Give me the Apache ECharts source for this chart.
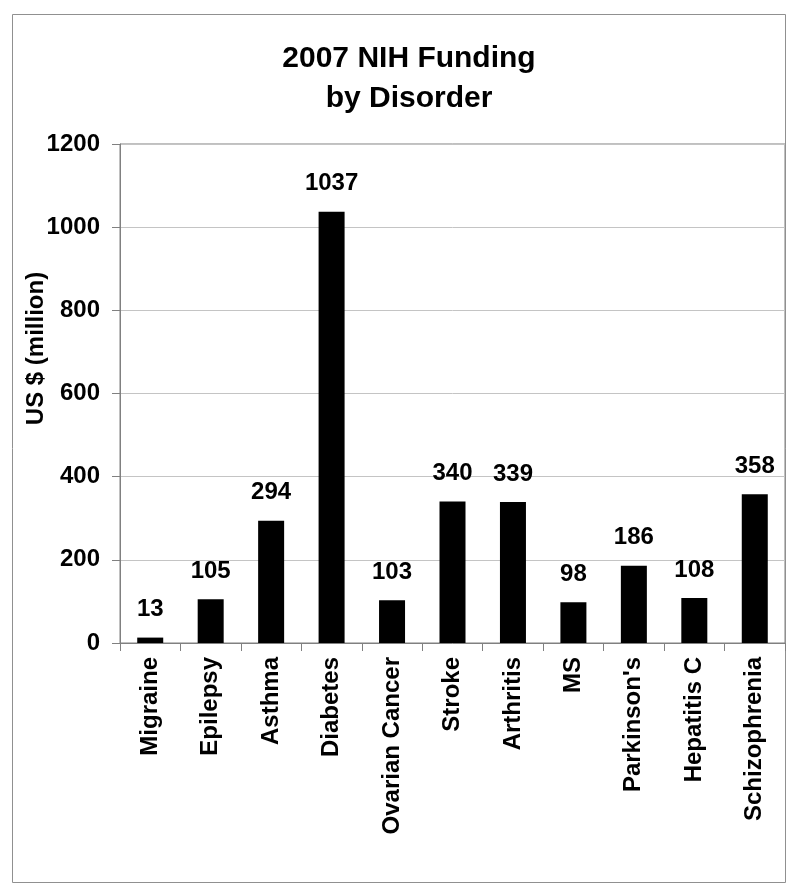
<!DOCTYPE html>
<html>
<head>
<meta charset="utf-8">
<script src="https://cdn.jsdelivr.net/npm/echarts@6/dist/echarts.min.js"></script>
<style>
  html, body { margin: 0; padding: 0; background: #fff; }
  #chart { width: 800px; height: 891px; }
</style>
</head>
<body>
<div id="chart"></div>
<script>
// 数据
var disorders = ['Migraine', 'Epilepsy', 'Asthma', 'Diabetes', 'Ovarian Cancer', 'Stroke',
  'Arthritis', 'MS', "Parkinson's", 'Hepatitis C', 'Schizophrenia'];
var funding = [13, 105, 294, 1037, 103, 340, 339, 98, 186, 108, 358];
var yTicks = [0, 200, 400, 600, 800, 1000, 1200];

var font = 'Arial, "Liberation Sans", sans-serif';

var myChart = echarts.init(document.getElementById('chart'));
var option = {
  backgroundColor: '#fff',
  animation: false,
  title: {
    text: '2007 NIH Funding\nby Disorder',
    left: 404,
    top: 34,
    textAlign: 'center',
    textStyle: {
      fontFamily: font,
      fontWeight: 'bold',
      fontSize: 30,
      lineHeight: 40,
      color: '#000'
    }
  },
  // 外框
  graphic: [{
    type: 'rect',
    shape: { x: 12.5, y: 14.5, width: 773, height: 868 },
    style: { fill: null, stroke: '#909090', lineWidth: 1 },
    silent: true
  }],
  grid: {
    left: 120,
    top: 144,
    right: 15,
    bottom: 248,
    show: true,
    borderColor: '#808080',
    borderWidth: 1
  },
  xAxis: {
    type: 'category',
    data: disorders,
    axisLine: { lineStyle: { color: '#808080', width: 1 } },
    axisTick: { show: true, length: 8, lineStyle: { color: '#808080' } },
    axisLabel: {
      rotate: 90,
      margin: 14,
      interval: 0,
      fontFamily: font,
      fontWeight: 'bold',
      fontSize: 24,
      color: '#000'
    }
  },
  yAxis: {
    type: 'value',
    min: yTicks[0],
    max: yTicks[yTicks.length - 1],
    interval: 200,
    name: 'US $ (million)',
    nameLocation: 'middle',
    nameGap: 72,
    nameMoveOverlap: false,
    nameTextStyle: {
      fontFamily: font,
      fontWeight: 'bold',
      fontSize: 24,
      color: '#000',
      padding: [0, 0, 0, 90]
    },
    axisLine: { show: true, lineStyle: { color: '#808080', width: 1 } },
    axisTick: { show: true, length: 8, lineStyle: { color: '#808080' } },
    splitLine: { lineStyle: { color: '#c4c4c4', width: 1 } },
    axisLabel: {
      margin: 20,
      formatter: function (v) { return String(v); },
      fontFamily: font,
      fontWeight: 'bold',
      fontSize: 24,
      color: '#000'
    }
  },
  series: [{
    type: 'bar',
    data: funding,
    barWidth: 26,
    itemStyle: { color: '#000' },
    label: {
      show: true,
      position: 'top',
      distance: 16,
      fontFamily: font,
      fontWeight: 'bold',
      fontSize: 24,
      color: '#000'
    }
  }]
};
myChart.setOption(option);
</script>
</body>
</html>
